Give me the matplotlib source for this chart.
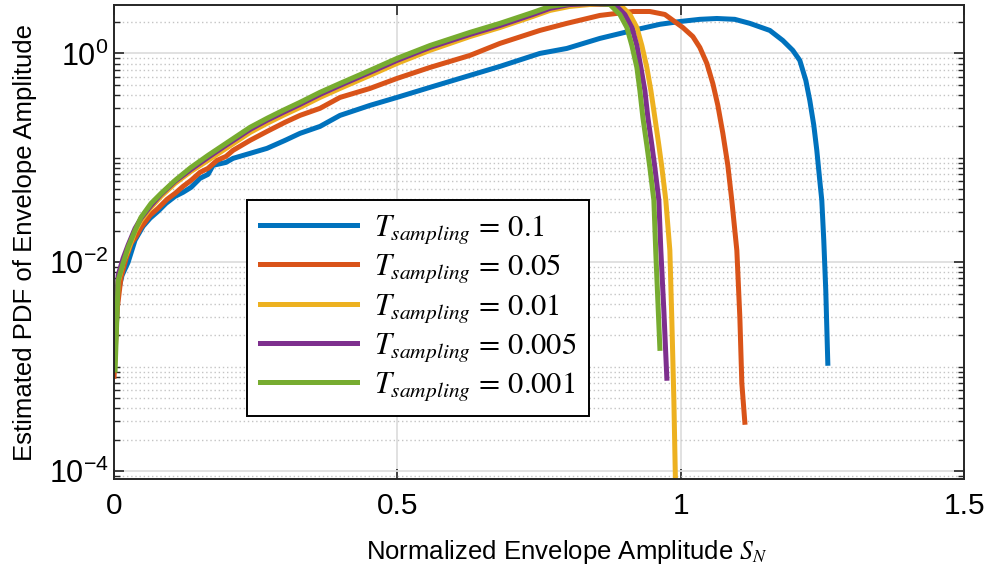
import numpy as np
import matplotlib
matplotlib.use('Agg')
import matplotlib.pyplot as plt
from matplotlib.ticker import FixedLocator, FuncFormatter, NullFormatter

plt.rcParams['font.family'] = ['Liberation Sans', 'DejaVu Sans']
plt.rcParams['mathtext.fontset'] = 'stix'

# T_sampling = 0.1
x_01 = [0.0, 0.0071, 0.0141, 0.0247, 0.0370, 0.0511, 0.0635, 0.0776, 0.0917, 0.1076,
        0.1217, 0.1358, 0.1517, 0.1658, 0.1746, 0.1975, 0.2099, 0.2399, 0.2698, 0.3016,
        0.3280, 0.3633, 0.3986, 0.4515, 0.4991, 0.5573, 0.6279, 0.6808, 0.7513, 0.7989,
        0.8571, 0.9153, 0.9630, 0.9982, 1.0335, 1.0635, 1.0952, 1.1217, 1.1570, 1.1799,
        1.1975, 1.2099, 1.2205, 1.2275, 1.2346, 1.2399, 1.2451, 1.2487, 1.2522, 1.2557, 1.2593]
y_01 = [0.0010, 0.0052, 0.0075, 0.0100, 0.0163, 0.0221, 0.0264, 0.0308, 0.0367, 0.0428,
        0.0468, 0.0522, 0.0637, 0.0695, 0.0848, 0.0905, 0.0989, 0.1104, 0.1233, 0.1470,
        0.1716, 0.200, 0.255, 0.318, 0.379, 0.473, 0.616, 0.751, 1.0, 1.116,
        1.392, 1.66, 1.90, 2.02, 2.12, 2.16, 2.12, 1.94, 1.66, 1.33,
        1.07, 0.857, 0.552, 0.355, 0.205, 0.118, 0.0609, 0.0392, 0.0162, 0.0054, 0.00108]

# T_sampling = 0.05
x_005 = [0.0, 0.0053, 0.0123, 0.0212, 0.0300, 0.0388, 0.0476, 0.0635, 0.0776, 0.0935,
         0.1076, 0.1217, 0.1358, 0.1517, 0.1658, 0.1817, 0.1975, 0.2099, 0.2399, 0.2698,
         0.3016, 0.3280, 0.3633, 0.3986, 0.4515, 0.4991, 0.5573, 0.6279, 0.6808, 0.7513,
         0.7989, 0.8571, 0.9153, 0.9453, 0.9718, 1.0035, 1.0212, 1.0335, 1.0459, 1.0564,
         1.0653, 1.0741, 1.0829, 1.0899, 1.0988, 1.1041, 1.1076, 1.1129]
y_005 = [0.00081, 0.0035, 0.0072, 0.0109, 0.0152, 0.0177, 0.0216, 0.0282, 0.0329, 0.0401,
         0.0457, 0.0533, 0.0609, 0.0727, 0.0794, 0.0946, 0.1033, 0.118, 0.147, 0.179,
         0.219, 0.255, 0.298, 0.379, 0.462, 0.576, 0.734, 0.957, 1.247, 1.66,
         1.94, 2.31, 2.52, 2.52, 2.36, 1.77, 1.45, 1.14, 0.802, 0.516,
         0.318, 0.172, 0.0848, 0.0392, 0.0130, 0.00298, 0.000695, 0.000294]

# T_sampling = 0.01
x_001 = [0.0, 0.0071, 0.0159, 0.0247, 0.0370, 0.0476, 0.0653, 0.0829, 0.1076, 0.1358,
         0.1658, 0.1975, 0.2399, 0.2698, 0.2981, 0.3280, 0.3633, 0.3986, 0.4515, 0.4991,
         0.5573, 0.6279, 0.6808, 0.7390, 0.7690, 0.8042, 0.8395, 0.8924, 0.9101, 0.9224,
         0.9312, 0.9400, 0.9471, 0.9541, 0.9612, 0.9665, 0.9735, 0.9806, 0.9841, 0.9877,
         0.9894, 0.9912]
y_001 = [0.00096, 0.0064, 0.0100, 0.0130, 0.0198, 0.0252, 0.0336, 0.0428, 0.0570, 0.0743,
         0.0946, 0.123, 0.175, 0.214, 0.255, 0.304, 0.379, 0.462, 0.616, 0.802,
         1.07, 1.45, 1.77, 2.26, 2.58, 2.82, 2.94, 2.94, 2.36, 1.77,
         1.19, 0.734, 0.442, 0.244, 0.132, 0.0811, 0.0392, 0.0130, 0.00279, 0.000478,
         0.000159, 0.00005]

# T_sampling = 0.005
x_0005 = [0.0, 0.0071, 0.0159, 0.0247, 0.0370, 0.0476, 0.0653, 0.0829, 0.1076, 0.1358,
          0.1658, 0.1975, 0.2399, 0.2698, 0.2981, 0.3280, 0.3633, 0.3986, 0.4515, 0.4991,
          0.5573, 0.6279, 0.6808, 0.7390, 0.7690, 0.8042, 0.8395, 0.8836, 0.9012, 0.9136,
          0.9224, 0.9295, 0.9365, 0.9418, 0.9489, 0.9541, 0.9612, 0.9647, 0.9700, 0.9753]
y_0005 = [0.00115, 0.0075, 0.0109, 0.0146, 0.0211, 0.0264, 0.0351, 0.0448, 0.0596, 0.0776,
          0.101, 0.132, 0.187, 0.229, 0.272, 0.325, 0.405, 0.494, 0.658, 0.857,
          1.14, 1.52, 1.85, 2.36, 2.70, 2.94, 3.0, 2.94, 2.36, 1.77,
          1.19, 0.734, 0.442, 0.244, 0.132, 0.0811, 0.0392, 0.0130, 0.00347, 0.000776]

# T_sampling = 0.001
x_0001 = [0.0018, 0.0071, 0.0159, 0.0247, 0.0370, 0.0476, 0.0653, 0.0829, 0.1076, 0.1358,
          0.1658, 0.1975, 0.2399, 0.2698, 0.2981, 0.3280, 0.3633, 0.3986, 0.4515, 0.4991,
          0.5573, 0.6279, 0.6808, 0.7390, 0.7690, 0.8042, 0.8395, 0.8748, 0.8924, 0.9048,
          0.9136, 0.9224, 0.9277, 0.9330, 0.9400, 0.9453, 0.9524, 0.9559, 0.9594, 0.9630]
y_0001 = [0.00093, 0.0067, 0.0098, 0.0139, 0.0202, 0.0270, 0.0367, 0.0457, 0.0609, 0.0811,
          0.1057, 0.1377, 0.196, 0.239, 0.285, 0.340, 0.424, 0.516, 0.688, 0.896,
          1.19, 1.59, 1.94, 2.47, 2.82, 3.0, 3.05, 2.94, 2.36, 1.77,
          1.19, 0.734, 0.442, 0.244, 0.132, 0.0811, 0.0392, 0.0120, 0.00433, 0.00150]

labels = [r'$T_{sampling}\,=\,0.1$', r'$T_{sampling}\,=\,0.05$', r'$T_{sampling}\,=\,0.01$',
          r'$T_{sampling}\,=\,0.005$', r'$T_{sampling}\,=\,0.001$']
colors = ['#0072BD', '#D95319', '#EDB120', '#7E2F8E', '#77AC30']

fig = plt.figure(figsize=(9.92, 5.69), dpi=100)
ax = fig.add_axes([0.115, 0.158, 0.857, 0.833])

series = [(x_01, y_01), (x_005, y_005), (x_001, y_001), (x_0005, y_0005), (x_0001, y_0001)]
for (xs, ys), c, lab in zip(series, colors, labels):
    ax.plot(xs, ys, color=c, lw=3.6, label=lab, solid_joinstyle='round')

ax.set_yscale('log')
ax.set_xlim(0, 1.5)
ax.set_ylim(8.4e-5, 2.9)

ax.set_xticks([0, 0.5, 1, 1.5])
ax.set_xticklabels(['0', '0.5', '1', '1.5'])
ax.yaxis.set_major_locator(FixedLocator([1e-4, 1e-2, 1]))
ax.yaxis.set_major_formatter(FuncFormatter(lambda v, p: r'$\mathdefault{10^{%d}}$' % round(np.log10(v))))
minors = [m * 10.0 ** k for k in range(-5, 1) for m in range(1, 10)
          if not (m == 1 and k in (-4, -2, 0))]
ax.yaxis.set_minor_locator(FixedLocator(minors))
ax.yaxis.set_minor_formatter(NullFormatter())
ax.xaxis.set_minor_locator(FixedLocator([]))

ax.tick_params(which='both', direction='in', top=True, right=True, color='#262626')
ax.tick_params(which='major', length=7, width=1.2)
ax.tick_params(which='minor', length=4, width=1.0)
ax.tick_params(axis='x', labelsize=21.5, pad=9)
ax.tick_params(axis='y', labelsize=22, pad=4)

ax.grid(which='major', color='#dedede', lw=1.3, ls='-')
ax.yaxis.grid(which='minor', color='#c4c4c4', lw=1.0, ls=(0, (1, 2)))
ax.set_axisbelow(True)
for s in ax.spines.values():
    s.set_color('#262626')
    s.set_linewidth(1.4)

ax.set_xlabel(r'Normalized Envelope Amplitude $S_N$', fontsize=18.5)
ax.xaxis.set_label_coords(0.532, -0.125)
ax.set_ylabel('Estimated PDF of Envelope Amplitude', fontsize=18.5, labelpad=8)

leg = ax.legend(loc='upper left', bbox_to_anchor=(0.156, 0.589), borderaxespad=0,
                fontsize=22, handlelength=3.2, handletextpad=0.55, labelspacing=0.2,
                fancybox=False, framealpha=1, edgecolor='black', borderpad=0.42)
leg.get_frame().set_linewidth(1.4)

fig.savefig('out.png', dpi=100)
